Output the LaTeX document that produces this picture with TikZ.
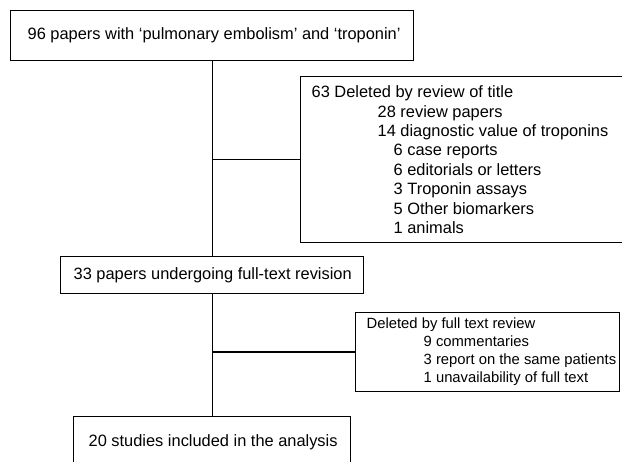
\documentclass[tikz,border=0pt]{standalone}
\usepackage{fontspec}
\setmainfont{Liberation Sans}
\begin{document}
\begin{tikzpicture}[x=1pt,y=-1pt,
  flowbox/.style={draw, line width=1.4pt, rectangle, anchor=north west,
    inner ysep=0pt, align=flush left, font=\fontsize{16.4}{19.4}\selectfont},
  link/.style={line width=1.4pt}]
\useasboundingbox (0,0) rectangle (622,462);
\clip (0,0) rectangle (622,462);

\node[flowbox, inner xsep=17pt, text width=369pt, minimum height=50pt] (top) at (10,10)
  {\mbox{96 papers with ‘pulmonary embolism’ and ‘troponin’}};

\node[flowbox, inner xsep=11.5pt, text width=327.5pt, minimum height=166pt] (del1) at (299.5,76)
  {63 Deleted by review of title\\
   \hspace*{66pt}28 review papers\\
   \hspace*{66pt}14 diagnostic value of troponins\\
   \hspace*{82pt}6 case reports\\
   \hspace*{82pt}6 editorials or letters\\
   \hspace*{82pt}3 Troponin assays\\
   \hspace*{82pt}5 Other biomarkers\\
   \hspace*{82pt}1 animals};

\node[flowbox, inner xsep=13pt, text width=277pt, minimum height=37pt] (mid) at (60,256)
  {\mbox{33 papers undergoing full-text revision}};

\node[flowbox, inner xsep=11pt, text width=242pt, minimum height=79.3pt,
  font=\fontsize{14.8}{18}\selectfont] (del2) at (355,311.7)
  {\mbox{Deleted by full text review}\\
   \mbox{\hspace*{57pt}9 commentaries}\\
   \mbox{\hspace*{57pt}3 report on the same patients}\\
   \mbox{\hspace*{57pt}1 unavailability of full text}};

\node[flowbox, inner xsep=15pt, text width=247pt, minimum height=52pt] (bot) at (73,416)
  {\mbox{20 studies included in the analysis}};

\draw[link] (top.south) -- (mid.north);
\draw[link] (mid.south) -- (bot.north);
\draw[link] (del1.west) -- (del1.west -| top.south);
\draw[link] (del2.west) -- (del2.west -| top.south);
\end{tikzpicture}
\end{document}
